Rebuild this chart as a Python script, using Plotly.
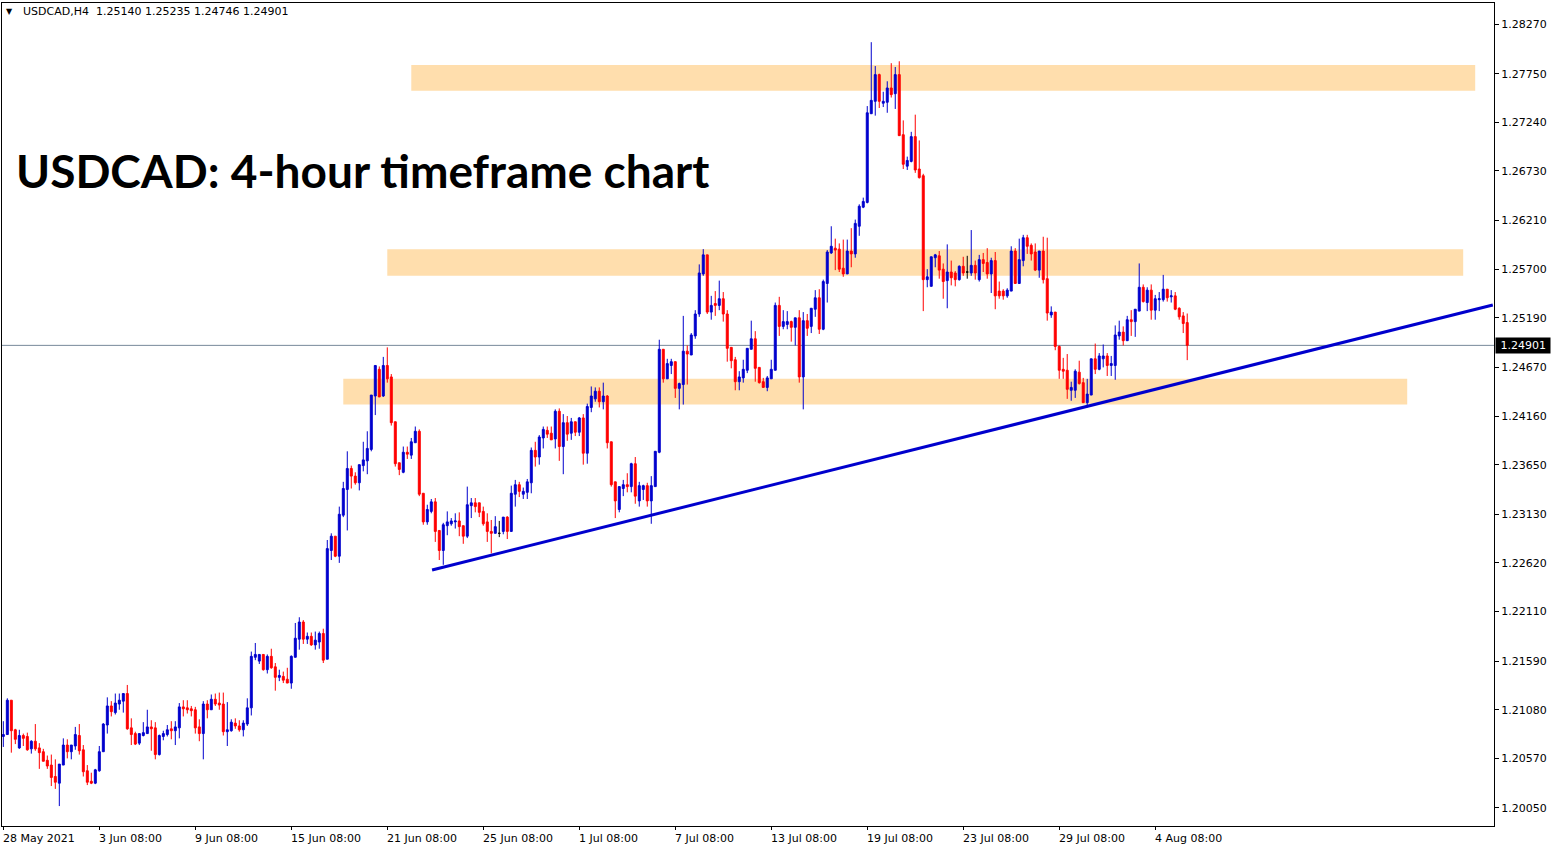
import plotly.graph_objects as go

# ---------------- data ----------------
opens = [
    1.2080, 1.2082, 1.2118, 1.2087, 1.2068, 1.2081, 1.2080, 1.2067, 1.2075, 1.2068,
    1.2064, 1.2055, 1.2050, 1.2038, 1.2031, 1.2050, 1.2071, 1.2064, 1.2070, 1.2081,
    1.2066, 1.2044, 1.2033, 1.2031, 1.2044, 1.2064, 1.2092, 1.2112, 1.2105, 1.2114,
    1.2117, 1.2125, 1.2089, 1.2083, 1.2073, 1.2081, 1.2083, 1.2090, 1.2089, 1.2061,
    1.2080, 1.2082, 1.2088, 1.2086, 1.2089, 1.2111, 1.2110, 1.2109, 1.2108, 1.2090,
    1.2083, 1.2114, 1.2108, 1.2119, 1.2115, 1.2114, 1.2085, 1.2086, 1.2094, 1.2091,
    1.2087, 1.2093, 1.2110, 1.2163, 1.2159, 1.2166, 1.2150, 1.2164, 1.2153, 1.2142,
    1.2143, 1.2140, 1.2136, 1.2163, 1.2182, 1.2200, 1.2182, 1.2185, 1.2176, 1.2179,
    1.2188, 1.2161, 1.2275, 1.2290, 1.2269, 1.2312, 1.2339, 1.2361, 1.2353, 1.2346,
    1.2364, 1.2369, 1.2381, 1.2437, 1.2465, 1.2437, 1.2469, 1.2457, 1.2410, 1.2367,
    1.2357, 1.2378, 1.2375, 1.2388, 1.2400, 1.2335, 1.2305, 1.2316, 1.2326, 1.2296,
    1.2275, 1.2301, 1.2303, 1.2305, 1.2306, 1.2301, 1.2290, 1.2322, 1.2325, 1.2325,
    1.2316, 1.2305, 1.2295, 1.2293, 1.2293, 1.2295, 1.2310, 1.2295, 1.2334, 1.2344,
    1.2334, 1.2336, 1.2346, 1.2380, 1.2373, 1.2393, 1.2401, 1.2398, 1.2392, 1.2421,
    1.2384, 1.2409, 1.2398, 1.2410, 1.2399, 1.2414, 1.2377, 1.2425, 1.2434, 1.2442,
    1.2431, 1.2437, 1.2389, 1.2347, 1.2318, 1.2340, 1.2344, 1.2342, 1.2366, 1.2327,
    1.2339, 1.2343, 1.2327, 1.2342, 1.2378, 1.2486, 1.2455, 1.2469, 1.2473, 1.2445,
    1.2449, 1.2484, 1.2480, 1.2500, 1.2523, 1.2565, 1.2585, 1.2525, 1.2534, 1.2532,
    1.2539, 1.2523, 1.2488, 1.2475, 1.2452, 1.2456, 1.2464, 1.2486, 1.2497, 1.2467,
    1.2452, 1.2446, 1.2455, 1.2464, 1.2532, 1.2510, 1.2512, 1.2515, 1.2509, 1.2519,
    1.2457, 1.2516, 1.2510, 1.2528, 1.2540, 1.2507, 1.2555, 1.2587, 1.2592, 1.2591,
    1.2571, 1.2565, 1.2589, 1.2586, 1.2615, 1.2635, 1.2640, 1.2733, 1.2746, 1.2774,
    1.2744, 1.2745, 1.2760, 1.2754, 1.2774, 1.2711, 1.2678, 1.2683, 1.2709, 1.2675,
    1.2668, 1.2559, 1.2552, 1.2582, 1.2584, 1.2570, 1.2558, 1.2567, 1.2566, 1.2559,
    1.2573, 1.2567, 1.2566, 1.2574, 1.2559, 1.2580, 1.2577, 1.2565, 1.2579, 1.2547,
    1.2547, 1.2542, 1.2547, 1.2589, 1.2555, 1.2579, 1.2603, 1.2595, 1.2588, 1.2569,
    1.2589, 1.2560, 1.2522, 1.2525, 1.2489, 1.2465, 1.2464, 1.2443, 1.2443, 1.2462,
    1.2451, 1.2430, 1.2438, 1.2476, 1.2465, 1.2476, 1.2479, 1.2469, 1.2469, 1.2500,
    1.2504, 1.2495, 1.2517, 1.2515, 1.2526, 1.2551, 1.2535, 1.2548, 1.2527, 1.2538,
    1.2538, 1.2549, 1.2541, 1.2542, 1.2529, 1.2521, 1.25140,
]
highs = [
    1.2096, 1.2120, 1.2118, 1.2088, 1.2087, 1.2083, 1.2084, 1.2076, 1.2093, 1.2073,
    1.2067, 1.2060, 1.2061, 1.2056, 1.2051, 1.2078, 1.2077, 1.2071, 1.2090, 1.2093,
    1.2071, 1.2050, 1.2042, 1.2046, 1.2070, 1.2094, 1.2121, 1.2117, 1.2125, 1.2125,
    1.2125, 1.2134, 1.2099, 1.2085, 1.2083, 1.2095, 1.2108, 1.2097, 1.2095, 1.2082,
    1.2086, 1.2092, 1.2096, 1.2096, 1.2115, 1.2118, 1.2118, 1.2112, 1.2111, 1.2098,
    1.2117, 1.2118, 1.2124, 1.2125, 1.2126, 1.2126, 1.2116, 1.2098, 1.2099, 1.2097,
    1.2097, 1.2120, 1.2169, 1.2178, 1.2166, 1.2166, 1.2166, 1.2172, 1.2157, 1.2150,
    1.2148, 1.2152, 1.2165, 1.2199, 1.2205, 1.2202, 1.2189, 1.2189, 1.2190, 1.2190,
    1.2193, 1.2286, 1.2293, 1.2290, 1.2321, 1.2347, 1.2379, 1.2364, 1.2357, 1.2365,
    1.2389, 1.2400, 1.2438, 1.2469, 1.2468, 1.2478, 1.2488, 1.2460, 1.2410, 1.2367,
    1.2384, 1.2384, 1.2393, 1.2405, 1.2402, 1.2335, 1.2323, 1.2329, 1.2330, 1.2296,
    1.2304, 1.2316, 1.2309, 1.2314, 1.2315, 1.2301, 1.2342, 1.2330, 1.2330, 1.2325,
    1.2321, 1.2314, 1.2307, 1.2311, 1.2306, 1.2310, 1.2311, 1.2343, 1.2349, 1.2347,
    1.2341, 1.2350, 1.2383, 1.2389, 1.2396, 1.2405, 1.2405, 1.2405, 1.2423, 1.2424,
    1.2418, 1.2416, 1.2414, 1.2410, 1.2415, 1.2418, 1.2429, 1.2447, 1.2446, 1.2446,
    1.2451, 1.2438, 1.2389, 1.2347, 1.2342, 1.2349, 1.2356, 1.2367, 1.2373, 1.2347,
    1.2344, 1.2346, 1.2353, 1.2379, 1.2496, 1.2486, 1.2476, 1.2476, 1.2473, 1.2451,
    1.2521, 1.2490, 1.2503, 1.2527, 1.2575, 1.2591, 1.2585, 1.2542, 1.2547, 1.2558,
    1.2546, 1.2527, 1.2488, 1.2478, 1.2463, 1.2475, 1.2487, 1.2516, 1.2505, 1.2467,
    1.2456, 1.2458, 1.2475, 1.2535, 1.2541, 1.2527, 1.2526, 1.2516, 1.2519, 1.2527,
    1.2525, 1.2523, 1.2529, 1.2548, 1.2549, 1.2559, 1.2590, 1.2615, 1.2602, 1.2597,
    1.2601, 1.2601, 1.2613, 1.2622, 1.2638, 1.2645, 1.2741, 1.2808, 1.2783, 1.2775,
    1.2756, 1.2767, 1.2786, 1.2782, 1.2788, 1.2726, 1.2688, 1.2714, 1.2732, 1.2705,
    1.2670, 1.2570, 1.2583, 1.2586, 1.2589, 1.2576, 1.2596, 1.2579, 1.2568, 1.2574,
    1.2583, 1.2584, 1.2611, 1.2579, 1.2585, 1.2587, 1.2592, 1.2582, 1.2588, 1.2557,
    1.2549, 1.2550, 1.2594, 1.2592, 1.2602, 1.2606, 1.2606, 1.2597, 1.2597, 1.2589,
    1.2604, 1.2603, 1.2531, 1.2525, 1.2490, 1.2477, 1.2481, 1.2452, 1.2465, 1.2474,
    1.2456, 1.2455, 1.2476, 1.2492, 1.2482, 1.2491, 1.2482, 1.2479, 1.2511, 1.2516,
    1.2510, 1.2521, 1.2527, 1.2528, 1.2576, 1.2554, 1.2551, 1.2554, 1.2543, 1.2546,
    1.2564, 1.2549, 1.2548, 1.2546, 1.2530, 1.2525, 1.25235,
]
lows = [
    1.2069, 1.2082, 1.2063, 1.2072, 1.2067, 1.2070, 1.2065, 1.2062, 1.2065, 1.2046,
    1.2054, 1.2046, 1.2028, 1.2025, 1.2007, 1.2050, 1.2057, 1.2056, 1.2066, 1.2061,
    1.2038, 1.2029, 1.2030, 1.2030, 1.2043, 1.2064, 1.2083, 1.2101, 1.2103, 1.2108,
    1.2105, 1.2087, 1.2071, 1.2071, 1.2071, 1.2080, 1.2083, 1.2065, 1.2056, 1.2060,
    1.2076, 1.2080, 1.2077, 1.2071, 1.2078, 1.2101, 1.2104, 1.2101, 1.2083, 1.2075,
    1.2056, 1.2099, 1.2108, 1.2112, 1.2108, 1.2081, 1.2070, 1.2085, 1.2088, 1.2085,
    1.2080, 1.2091, 1.2102, 1.2160, 1.2156, 1.2149, 1.2146, 1.2151, 1.2128, 1.2138,
    1.2136, 1.2136, 1.2130, 1.2163, 1.2171, 1.2177, 1.2177, 1.2175, 1.2171, 1.2172,
    1.2157, 1.2161, 1.2265, 1.2268, 1.2262, 1.2310, 1.2296, 1.2340, 1.2344, 1.2338,
    1.2358, 1.2355, 1.2379, 1.2417, 1.2436, 1.2436, 1.2451, 1.2406, 1.2363, 1.2354,
    1.2356, 1.2371, 1.2371, 1.2388, 1.2332, 1.2302, 1.2302, 1.2314, 1.2284, 1.2265,
    1.2260, 1.2291, 1.2301, 1.2298, 1.2290, 1.2282, 1.2288, 1.2309, 1.2315, 1.2310,
    1.2301, 1.2284, 1.2272, 1.2293, 1.2289, 1.2292, 1.2287, 1.2295, 1.2321, 1.2331,
    1.2329, 1.2329, 1.2335, 1.2363, 1.2365, 1.2382, 1.2393, 1.2391, 1.2382, 1.2369,
    1.2355, 1.2390, 1.2391, 1.2395, 1.2395, 1.2365, 1.2366, 1.2420, 1.2431, 1.2425,
    1.2423, 1.2382, 1.2342, 1.2309, 1.2315, 1.2332, 1.2336, 1.2336, 1.2324, 1.2321,
    1.2328, 1.2321, 1.2303, 1.2342, 1.2377, 1.2451, 1.2455, 1.2460, 1.2435, 1.2423,
    1.2428, 1.2449, 1.2480, 1.2497, 1.2520, 1.2563, 1.2523, 1.2517, 1.2521, 1.2527,
    1.2515, 1.2473, 1.2466, 1.2443, 1.2443, 1.2451, 1.2461, 1.2486, 1.2452, 1.2450,
    1.2446, 1.2442, 1.2455, 1.2464, 1.2500, 1.2507, 1.2507, 1.2494, 1.2490, 1.2451,
    1.2423, 1.2500, 1.2503, 1.2520, 1.2502, 1.2506, 1.2535, 1.2586, 1.2569, 1.2567,
    1.2562, 1.2565, 1.2572, 1.2582, 1.2605, 1.2634, 1.2639, 1.2733, 1.2731, 1.2739,
    1.2740, 1.2734, 1.2750, 1.2738, 1.2710, 1.2675, 1.2674, 1.2682, 1.2671, 1.2665,
    1.2526, 1.2551, 1.2552, 1.2572, 1.2560, 1.2539, 1.2529, 1.2553, 1.2552, 1.2558,
    1.2563, 1.2560, 1.2563, 1.2559, 1.2557, 1.2567, 1.2560, 1.2545, 1.2528, 1.2539,
    1.2538, 1.2540, 1.2547, 1.2555, 1.2555, 1.2573, 1.2586, 1.2579, 1.2568, 1.2561,
    1.2555, 1.2516, 1.2519, 1.2485, 1.2455, 1.2455, 1.2434, 1.2432, 1.2435, 1.2449,
    1.2430, 1.2425, 1.2438, 1.2460, 1.2464, 1.2467, 1.2458, 1.2458, 1.2454, 1.2496,
    1.2490, 1.2495, 1.2500, 1.2499, 1.2526, 1.2535, 1.2526, 1.2517, 1.2517, 1.2526,
    1.2536, 1.2536, 1.2535, 1.2527, 1.2517, 1.2503, 1.24746,
]
closes = [
    1.2082, 1.2118, 1.2086, 1.2077, 1.2081, 1.2078, 1.2066, 1.2075, 1.2067, 1.2063,
    1.2054, 1.2049, 1.2037, 1.2032, 1.2051, 1.2071, 1.2064, 1.2071, 1.2082, 1.2065,
    1.2043, 1.2032, 1.2031, 1.2045, 1.2064, 1.2093, 1.2112, 1.2106, 1.2115, 1.2118,
    1.2125, 1.2088, 1.2082, 1.2072, 1.2083, 1.2084, 1.2090, 1.2088, 1.2061, 1.2081,
    1.2083, 1.2087, 1.2086, 1.2090, 1.2111, 1.2109, 1.2108, 1.2107, 1.2089, 1.2083,
    1.2114, 1.2108, 1.2119, 1.2114, 1.2113, 1.2085, 1.2087, 1.2095, 1.2091, 1.2087,
    1.2094, 1.2110, 1.2164, 1.2166, 1.2166, 1.2150, 1.2164, 1.2152, 1.2142, 1.2144,
    1.2139, 1.2136, 1.2164, 1.2183, 1.2200, 1.2182, 1.2185, 1.2176, 1.2181, 1.2188,
    1.2160, 1.2277, 1.2290, 1.2269, 1.2313, 1.2340, 1.2361, 1.2353, 1.2346, 1.2365,
    1.2370, 1.2382, 1.2438, 1.2469, 1.2436, 1.2469, 1.2455, 1.2409, 1.2366, 1.2360,
    1.2378, 1.2376, 1.2389, 1.2400, 1.2334, 1.2305, 1.2318, 1.2326, 1.2295, 1.2275,
    1.2302, 1.2305, 1.2306, 1.2306, 1.2300, 1.2290, 1.2323, 1.2325, 1.2321, 1.2315,
    1.2303, 1.2295, 1.2293, 1.2300, 1.2293, 1.2310, 1.2295, 1.2335, 1.2344, 1.2337,
    1.2337, 1.2347, 1.2380, 1.2373, 1.2394, 1.2402, 1.2397, 1.2391, 1.2421, 1.2384,
    1.2409, 1.2397, 1.2410, 1.2399, 1.2414, 1.2377, 1.2426, 1.2437, 1.2442, 1.2431,
    1.2437, 1.2388, 1.2344, 1.2327, 1.2342, 1.2344, 1.2342, 1.2366, 1.2332, 1.2343,
    1.2343, 1.2327, 1.2343, 1.2379, 1.2486, 1.2455, 1.2471, 1.2473, 1.2445, 1.2450,
    1.2484, 1.2481, 1.2501, 1.2523, 1.2566, 1.2585, 1.2525, 1.2532, 1.2532, 1.2539,
    1.2523, 1.2487, 1.2474, 1.2452, 1.2457, 1.2465, 1.2487, 1.2497, 1.2466, 1.2451,
    1.2446, 1.2456, 1.2465, 1.2532, 1.2510, 1.2515, 1.2515, 1.2509, 1.2519, 1.2457,
    1.2516, 1.2508, 1.2529, 1.2540, 1.2507, 1.2557, 1.2588, 1.2594, 1.2590, 1.2570,
    1.2565, 1.2589, 1.2586, 1.2618, 1.2636, 1.2641, 1.2734, 1.2747, 1.2774, 1.2746,
    1.2746, 1.2760, 1.2753, 1.2774, 1.2710, 1.2680, 1.2684, 1.2709, 1.2674, 1.2666,
    1.2559, 1.2562, 1.2583, 1.2585, 1.2569, 1.2557, 1.2567, 1.2561, 1.2559, 1.2573,
    1.2566, 1.2567, 1.2574, 1.2566, 1.2580, 1.2576, 1.2565, 1.2579, 1.2542, 1.2542,
    1.2542, 1.2548, 1.2589, 1.2555, 1.2580, 1.2603, 1.2594, 1.2586, 1.2569, 1.2589,
    1.2559, 1.2524, 1.2525, 1.2489, 1.2464, 1.2463, 1.2444, 1.2446, 1.2463, 1.2450,
    1.2430, 1.2439, 1.2476, 1.2465, 1.2479, 1.2479, 1.2469, 1.2471, 1.2501, 1.2504,
    1.2495, 1.2517, 1.2515, 1.2528, 1.2551, 1.2536, 1.2548, 1.2527, 1.2539, 1.2539,
    1.2549, 1.2540, 1.2542, 1.2528, 1.2520, 1.2513, 1.24901,
]

date_labels = ["28 May 2021", "3 Jun 08:00", "9 Jun 08:00", "15 Jun 08:00", "21 Jun 08:00",
               "25 Jun 08:00", "1 Jul 08:00", "7 Jul 08:00", "13 Jul 08:00", "19 Jul 08:00",
               "23 Jul 08:00", "29 Jul 08:00", "4 Aug 08:00"]
date_label_bars = [0, 24, 48, 72, 96, 120, 144, 168, 192, 216, 240, 264, 288]

price_ticks = [1.20050, 1.20570, 1.21080, 1.21590, 1.22110, 1.22620, 1.23130, 1.23650,
               1.24160, 1.24670, 1.25190, 1.25700, 1.26210, 1.26730, 1.27240, 1.27750, 1.28270]

zone_start_bar = [102, 96, 85]
zone_end_bar = [368, 365, 351]
zone_low = [1.2757, 1.2563, 1.2428]
zone_high = [1.2784, 1.2591, 1.2455]

trend_bars = [107.2, 372.4]
trend_prices = [1.22546, 1.25324]

last_price = 1.24901
symbol_header = "USDCAD,H4\u00a0\u00a01.25140 1.25235 1.24746 1.24901"
title_text = "USDCAD: 4-hour timeframe chart"

# ---------------- styling ----------------
BLUE = "#0000CD"
RED = "#FF0000"
ZONE = "#FFDEAD"
AXFONT = dict(family="DejaVu Sans", size=11, color="black")

n = len(opens)
bars = list(range(n))
is_doji = [abs(opens[i] - closes[i]) < 1e-9 for i in range(n)]


def pick(vals, keep):
    return [v if k else None for v, k in zip(vals, keep)]


normal = [not d for d in is_doji]

fig = go.Figure()

fig.add_trace(go.Candlestick(
    x=bars, open=pick(opens, normal), high=pick(highs, normal),
    low=pick(lows, normal), close=pick(closes, normal),
    increasing=dict(line=dict(color=BLUE, width=1), fillcolor=BLUE),
    decreasing=dict(line=dict(color=RED, width=1), fillcolor=RED),
    whiskerwidth=0, hoverinfo="skip", showlegend=False,
))
fig.add_trace(go.Candlestick(
    x=bars, open=pick(opens, is_doji), high=pick(highs, is_doji),
    low=pick(lows, is_doji), close=pick(closes, is_doji),
    increasing=dict(line=dict(color="black", width=1), fillcolor="black"),
    decreasing=dict(line=dict(color="black", width=1), fillcolor="black"),
    whiskerwidth=0, hoverinfo="skip", showlegend=False,
))

shapes = []
for x0, x1, y0, y1 in zip(zone_start_bar, zone_end_bar, zone_low, zone_high):
    shapes.append(dict(type="rect", xref="x", yref="y", x0=x0, x1=x1, y0=y0, y1=y1,
                       fillcolor=ZONE, line=dict(width=0), layer="below"))
shapes.append(dict(type="line", xref="paper", yref="y", x0=0, x1=1,
                   y0=last_price, y1=last_price,
                   line=dict(color="#778899", width=1), layer="below"))
shapes.append(dict(type="line", xref="x", yref="y",
                   x0=trend_bars[0], x1=trend_bars[1],
                   y0=trend_prices[0], y1=trend_prices[1],
                   line=dict(color=BLUE, width=3), layer="above"))

annotations = []
for b, lab in zip(date_label_bars, date_labels):
    annotations.append(dict(x=b, y=0, xref="x", yref="paper", text=lab,
                            showarrow=False, xanchor="left", yanchor="top",
                            xshift=-2, yshift=-4, font=AXFONT))
annotations.append(dict(x=0.0015, y=0.9895, xref="paper", yref="paper", text="\u25BC",
                        showarrow=False, xanchor="left", yanchor="middle",
                        font=dict(family="DejaVu Sans", size=8, color="black")))
annotations.append(dict(x=0.0128, y=0.9895, xref="paper", yref="paper", text=symbol_header,
                        showarrow=False, xanchor="left", yanchor="middle",
                        font=dict(family="DejaVu Sans", size=11, color="#000000")))
annotations.append(dict(x=0.0078, y=0.7970, xref="paper", yref="paper", text="<b>" + title_text + "</b>",
                        showarrow=False, xanchor="left", yanchor="middle",
                        font=dict(family="Lato", size=46, color="black")))
annotations.append(dict(x=1, y=last_price, xref="paper", yref="y",
                        text="\u00a0" + f"{last_price:.5f}" + "\u00a0",
                        showarrow=False, xanchor="left", yanchor="middle", xshift=1,
                        bgcolor="black", borderpad=1,
                        font=dict(family="DejaVu Sans", size=11, color="white")))

fig.update_layout(
    width=1558, height=850,
    margin=dict(l=2, r=64, t=3, b=24, pad=0),
    paper_bgcolor="white", plot_bgcolor="white",
    shapes=shapes, annotations=annotations,
    showlegend=False,
    xaxis=dict(range=[-0.33, 372.7], showgrid=False, zeroline=False,
               showline=True, mirror=True, linecolor="black", linewidth=1,
               tickvals=date_label_bars, ticks="outside", ticklen=3, tickcolor="black",
               showticklabels=False, rangeslider=dict(visible=False), fixedrange=True),
    yaxis=dict(range=[1.19861, 1.28491], side="right", showgrid=False, zeroline=False,
               showline=True, mirror=True, linecolor="black", linewidth=1,
               tickvals=price_ticks, ticktext=[f"{v:.5f}" for v in price_ticks],
               ticks="outside", ticklen=4, tickcolor="black", tickfont=AXFONT,
               fixedrange=True),
)

fig.write_html("out.html", config={"displayModeBar": False},
               post_script="document.body.style.margin='0';document.body.style.overflow='hidden';")
